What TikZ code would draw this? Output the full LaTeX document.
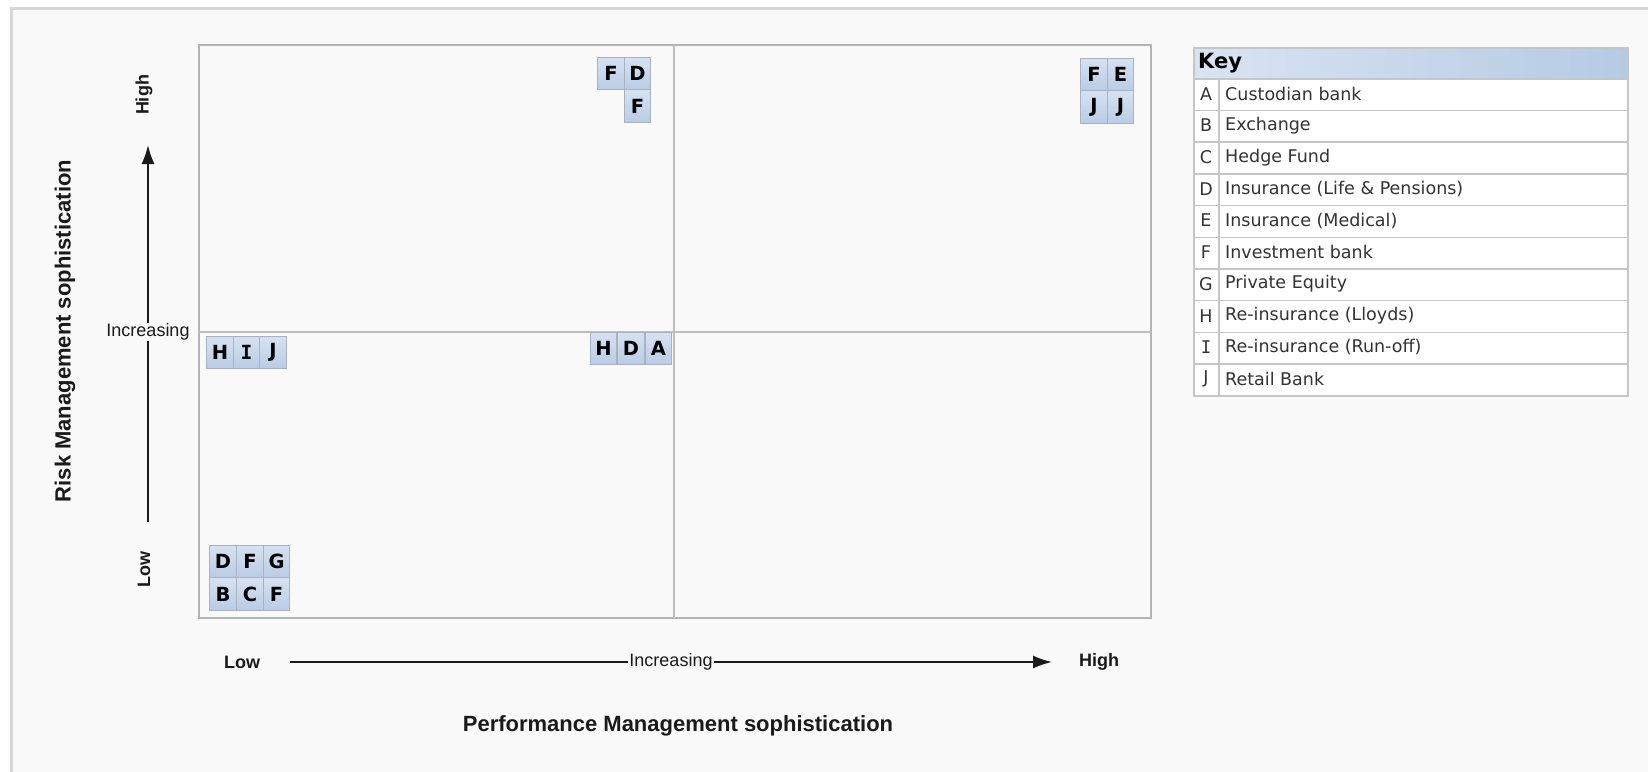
\documentclass[tikz,border=0pt]{standalone}
\usepackage{fontspec}
\setmainfont{DejaVu Sans}
\newfontfamily\axisfont{Liberation Sans}
\newfontfamily\serifI{DejaVu Sans Mono}
\usetikzlibrary{arrows.meta}

\definecolor{pagebg}{HTML}{F9F9F9}
\definecolor{frameline}{HTML}{D6D6D6}
\definecolor{plotline}{HTML}{B4B4B4}
\definecolor{midline}{HTML}{BEBEBE}
\definecolor{celltop}{HTML}{D6E2F1}
\definecolor{cellbot}{HTML}{B9CCE5}
\definecolor{cellline}{HTML}{A9B2BE}
\definecolor{keyline}{HTML}{C6C6C6}
\definecolor{keyleft}{HTML}{D9E4F2}
\definecolor{keyright}{HTML}{B6CAE4}
\definecolor{keytext}{HTML}{333333}
\definecolor{axisink}{HTML}{1A1A1A}

\tikzset{
  cell/.style={draw=cellline, line width=0.9pt, top color=celltop, bottom color=cellbot,
    minimum width=26.5pt, minimum height=32.5pt, inner sep=0pt,
    font=\fontsize{19.5}{19.5}\selectfont\bfseries, text=black},
  axislabel/.style={font=\axisfont\bfseries\fontsize{22}{22}\selectfont, text=axisink},
  endlabel/.style={font=\axisfont\bfseries\fontsize{18}{18}\selectfont, text=axisink},
  inclabel/.style={font=\axisfont\fontsize{18}{18}\selectfont, text=axisink, fill=pagebg, inner sep=1pt},
  axisarrow/.style={draw=axisink, line width=1.8pt, -{Latex[length=19pt,width=13pt]}},
  keyrow/.style={draw=keyline, line width=1.5pt, fill=white},
  keyletter/.style={font=\fontsize{17.5}{17.5}\selectfont, text=keytext},
  keyname/.style={font=\fontsize{17.5}{17.5}\selectfont, text=keytext, anchor=west, inner sep=0pt},
}

\begin{document}
\begin{tikzpicture}[x=1pt,y=-1pt]
\useasboundingbox (0,0) rectangle (1648,771);
\fill[white] (0,0) rectangle (1648,771);
% page frame, open to the right and bottom
\filldraw[fill=pagebg, draw=frameline, line width=3pt] (11,8) rectangle (1680,800);

% quadrant plot
\draw[plotline, line width=1.5pt, fill=pagebg] (199,45) rectangle (1151,618);
\coordinate (midtop) at (674,45);
\coordinate (midbot) at (674,618);
\coordinate (midleft) at (199,332);
\coordinate (midright) at (1151,332);
\draw[midline, line width=2pt] (midtop) -- (midbot);
\draw[midline, line width=2pt] (midleft) -- (midright);

% vertical axis
\coordinate (vstart) at (148,522);
\coordinate (vend) at (148,145);
\draw[axisarrow] (vstart) -- (vend);
\node[inclabel] (vinc) at (148,332) {Increasing};
\node[endlabel, rotate=90] (vhigh) at (144,95) {High};
\node[endlabel, rotate=90] (vlow) at (144,569) {Low};
\node[axislabel, rotate=90] (vtitle) at (65,331) {Risk Management sophistication};

% horizontal axis
\coordinate (hstart) at (290,662);
\coordinate (hend) at (1052,662);
\draw[axisarrow] (hstart) -- (hend);
\node[inclabel] (hinc) at (671,662) {Increasing};
\node[endlabel] (hlow) at (242,662) {Low};
\node[endlabel] (hhigh) at (1099,662) {High};
\node[axislabel] (htitle) at (678,726) {Performance Management sophistication};

% organisations placed in the quadrants
\node[cell] (tm1) at (611,73.5) {F};
\node[cell] (tm2) at (637.5,73.5) {D};
\node[cell] (tm3) at (637.5,106) {F};

\node[cell] (tr1) at (1094,74.5) {F};
\node[cell] (tr2) at (1120.5,74.5) {E};
\node[cell] (tr3) at (1094,107) {J};
\node[cell] (tr4) at (1120.5,107) {J};

\node[cell] (ml1) at (220,352.5) {H};
\node[cell] (ml2) at (246.5,352.5) {\serifI\bfseries I};
\node[cell] (ml3) at (273,352.5) {J};

\node[cell] (mc1) at (603.5,348.5) {H};
\node[cell] (mc2) at (631,348.5) {D};
\node[cell] (mc3) at (658.5,348.5) {A};

\node[cell] (bl1) at (223,561.5) {D};
\node[cell] (bl2) at (250,561.5) {F};
\node[cell] (bl3) at (276.5,561.5) {G};
\node[cell] (bl4) at (223,594) {B};
\node[cell] (bl5) at (250,594) {C};
\node[cell] (bl6) at (276.5,594) {F};

% key table
\node[draw=keyline, line width=1.5pt, left color=keyleft, right color=keyright,
      minimum width=434pt, minimum height=31pt, anchor=north west, inner sep=0pt]
      (keyhead) at (1193,47) {};
\node[font=\bfseries\fontsize{21}{21}\selectfont, text=black, anchor=west, inner sep=0pt]
      (keytitle) at (1198,63) {Key};
\foreach \i/\l/\t in {0/A/Custodian bank, 1/B/Exchange, 2/C/Hedge Fund,
    3/D/Insurance (Life \& Pensions), 4/E/Insurance (Medical), 5/F/Investment bank,
    6/G/Private Equity, 7/H/Re-insurance (Lloyds), 8/{\serifI I}/Re-insurance (Run-off),
    9/J/Retail Bank}{
  \node[keyrow, minimum width=434pt, minimum height=31.7pt, anchor=north west, inner sep=0pt]
    (krow\i) at (1193,78+31.7*\i) {};
  \draw[keyline, line width=1.5pt] (krow\i.north west) ++(26,0) coordinate (kdt\i)
    (krow\i.south west) ++(26,0) coordinate (kdb\i);
  \draw[keyline, line width=2pt] (kdt\i) -- (kdb\i);
  \node[keyletter] (kl\i) at (1206,93.8+31.7*\i) {\l};
  \node[keyname] (kn\i) at (1225,93.8+31.7*\i) {\t};
}
\end{tikzpicture}
\end{document}
